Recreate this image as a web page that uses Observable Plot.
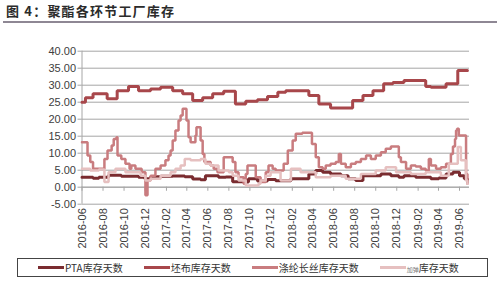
<!DOCTYPE html>
<html><head><meta charset="utf-8">
<script src="https://cdn.jsdelivr.net/npm/d3@7"></script>
<script src="https://cdn.jsdelivr.net/npm/@observablehq/plot@0.6"></script>
<style>
body{margin:0;background:#fff;width:500px;height:282px;overflow:hidden;position:relative;font-family:"Liberation Sans",Arial,sans-serif;}
#title{position:absolute;left:3px;top:0;width:494px;height:23px;border-bottom:2px solid #8e8794;box-sizing:border-box;font-family:"Noto Sans CJK SC",sans-serif;font-weight:bold;font-size:13px;letter-spacing:1.2px;line-height:22px;color:#2b2b2b;padding-left:3px;}
#chart{position:absolute;left:0;top:23px;}
#legend{position:absolute;left:17px;top:258px;width:471px;height:19px;border:1px solid #444;box-sizing:border-box;display:flex;align-items:center;padding-left:20px;gap:21px;font-family:"Noto Sans CJK SC",sans-serif;font-size:10px;color:#333;}
.item{display:flex;align-items:center;white-space:nowrap;}
.sw{display:inline-block;width:26px;height:3px;margin-right:1px;}
.small{font-size:6px;color:#777;}
</style></head>
<body>
<div id="title">图 4：聚酯各环节工厂库存</div>
<div id="chart"></div>
<div id="legend"></div>
<script>
// ---- data ----
const seriesNames = ["PTA库存天数", "坯布库存天数", "涤纶长丝库存天数", "加弹库存天数"];
const seriesColors = ["#7a2c30", "#a8474b", "#c97c7f", "#e6c0c0"];
const seriesWidths = [3, 3, 2.5, 2.5];

const yTicks = [-5, 0, 5, 10, 15, 20, 25, 30, 35, 40];
const xTickLabels = ["2016-06","2016-08","2016-10","2016-12","2017-02","2017-04","2017-06","2017-08","2017-10","2017-12","2018-02","2018-04","2018-06","2018-08","2018-10","2018-12","2019-02","2019-04","2019-06"];
const xDomain = ["2016-06-01", "2019-06-30"];

const ptaDates = ["2016-06-01","2016-07-03","2016-07-20","2016-08-17","2016-09-23","2016-11-12","2016-11-30","2016-12-17","2017-01-15","2017-02-19","2017-03-26","2017-04-18","2017-05-11","2017-05-25","2017-07-02","2017-07-23","2017-08-12","2017-09-13","2017-09-27","2017-10-23","2017-11-21","2017-12-15","2018-01-13","2018-01-28","2018-03-21","2018-04-10","2018-04-30","2018-05-23","2018-06-22","2018-07-13","2018-08-04","2018-08-25","2018-10-16","2018-11-14","2018-12-07","2018-12-22","2019-01-25","2019-03-10","2019-04-02","2019-04-23","2019-05-13","2019-06-01","2019-06-15","2019-06-24"];
const ptaValues = [2.9,2.6,2.9,3.5,3.2,2.9,2.5,3.1,3.2,3.3,3.1,2.4,2.2,3.4,2.9,3.0,1.6,1.5,2.5,1.8,2.3,1.9,1.9,2.5,3.9,4.9,4.4,3.9,3.4,2.5,2.0,3.4,3.9,3.4,2.9,3.4,2.9,2.5,2.7,3.9,4.4,3.4,2.5,1.5];

const pibuDates = ["2016-06-01","2016-06-11","2016-07-03","2016-08-13","2016-09-11","2016-10-14","2016-11-12","2016-12-17","2017-01-15","2017-02-19","2017-03-20","2017-04-18","2017-05-17","2017-06-15","2017-07-17","2017-08-20","2017-09-19","2017-10-23","2017-11-21","2017-12-21","2018-01-13","2018-03-21","2018-04-19","2018-05-23","2018-07-26","2018-08-25","2018-09-23","2018-10-24","2018-11-20","2018-12-22","2019-02-23","2019-03-10","2019-04-23","2019-05-27","2019-06-24"];
const pibuValues = [25,26.3,27.5,26,28.4,29.6,28.4,28.9,29.4,28.4,27.5,25.5,26.3,27.5,28.2,24.5,25.3,25.7,26.7,27.9,28.4,27,24.5,23.3,25.5,27,28.4,30.4,30.8,31.4,29.6,29.4,30.4,34.3,34.3];

const dtlDates = ["2016-06-01","2016-06-17","2016-06-25","2016-07-03","2016-08-05","2016-08-14","2016-08-26","2016-09-01","2016-09-09","2016-09-12","2016-09-23","2016-10-05","2016-10-17","2016-10-22","2016-11-03","2016-11-21","2016-12-02","2016-12-08","2016-12-17","2016-12-31","2017-01-15","2017-01-29","2017-02-07","2017-02-13","2017-02-19","2017-02-27","2017-03-08","2017-03-14","2017-03-20","2017-03-31","2017-04-06","2017-04-12","2017-04-26","2017-04-29","2017-05-11","2017-05-17","2017-05-22","2017-06-09","2017-06-18","2017-06-29","2017-07-17","2017-08-12","2017-08-20","2017-08-29","2017-09-13","2017-09-19","2017-09-24","2017-10-18","2017-11-01","2017-11-16","2017-11-24","2017-12-06","2017-12-15","2018-01-07","2018-01-19","2018-02-02","2018-02-11","2018-03-02","2018-03-30","2018-04-10","2018-04-19","2018-04-30","2018-05-09","2018-05-23","2018-06-07","2018-06-16","2018-06-22","2018-07-06","2018-07-21","2018-08-04","2018-08-19","2018-09-03","2018-09-17","2018-10-01","2018-10-16","2018-10-30","2018-11-14","2018-12-07","2018-12-13","2018-12-28","2019-01-11","2019-01-25","2019-02-09","2019-02-23","2019-03-04","2019-03-10","2019-03-25","2019-04-08","2019-04-23","2019-05-07","2019-05-13","2019-05-19","2019-05-22","2019-05-25","2019-05-30","2019-06-20","2019-06-24"];
const dtlValues = [13.2,9.3,7.4,5.4,8.3,10.8,12.3,14.2,14.7,9.3,8.3,6.9,5.4,6.4,5.4,4.4,-2.4,2.0,3.4,5.4,6.4,7.9,9.3,10.8,13.7,16.7,19.6,21.1,23.1,19.6,14.7,13.2,15.2,17.6,13.7,9.8,7.4,6.4,5.4,4.4,8.8,7.4,4.4,2.9,1.0,3.9,6.4,2.9,1.5,4.4,6.4,5.4,4.9,6.9,10.8,13.7,15.7,16.0,12.7,8.8,5.9,5.4,6.4,6.9,7.4,9.8,6.9,5.9,6.9,7.4,8.3,9.3,8.3,9.3,10.3,11.3,12.0,8.8,7.4,5.4,6.4,6.1,5.4,4.9,8.3,6.4,5.4,5.9,6.9,9.8,12.0,14.2,16.7,17.2,15.2,3.9,1.0];

const jdDates = ["2016-06-01","2016-06-25","2016-07-20","2016-08-05","2016-08-17","2016-09-06","2016-10-05","2016-11-18","2016-12-02","2016-12-17","2017-01-15","2017-02-13","2017-02-27","2017-03-14","2017-03-26","2017-04-12","2017-05-11","2017-05-25","2017-06-09","2017-07-02","2017-08-01","2017-08-12","2017-08-29","2017-09-19","2017-10-26","2017-11-01","2017-11-16","2017-11-30","2017-12-29","2018-01-28","2018-02-25","2018-04-10","2018-05-23","2018-07-06","2018-08-19","2018-10-01","2018-10-30","2018-11-29","2019-01-11","2019-02-23","2019-04-08","2019-05-01","2019-05-27","2019-06-05","2019-06-20","2019-06-24"];
const jdValues = [5.4,4.9,5.2,1.5,4.4,5.4,4.4,3.4,2.0,2.5,3.4,4.4,5.4,6.4,8.3,7.9,8.3,6.9,6.4,4.9,4.4,3.4,2.0,0.5,1.0,2.0,3.4,4.4,2.0,5.4,4.4,2.9,3.4,2.5,3.9,4.9,5.9,4.4,3.9,4.4,3.4,6.9,11.8,7.9,2.0,1.0];

// ---- build ----
const parse = d3.utcParse("%Y-%m-%d");
const seriesDates = [ptaDates, pibuDates, dtlDates, jdDates];
const seriesValues = [ptaValues, pibuValues, dtlValues, jdValues];
const tickDates = xTickLabels.map(s => parse(s + "-01"));
const labelByTime = new Map(tickDates.map((d, i) => [+d, xTickLabels[i]]));
const gray = "#a6a6a6";

const lineMarks = seriesNames.map((name, k) => {
  const rows = seriesDates[k].map((d, i) => ({date: parse(d), value: seriesValues[k][i]}));
  return Plot.line(rows, {x: "date", y: "value", curve: "step-after", stroke: seriesColors[k], strokeWidth: seriesWidths[k], strokeLinejoin: "miter"});
});

const chart = Plot.plot({
  width: 500,
  height: 232,
  marginLeft: 81.5,
  marginRight: 31,
  marginTop: 27.7,
  marginBottom: 51.3,
  x: {type: "utc", domain: xDomain.map(parse), label: null},
  y: {domain: [yTicks[0], yTicks[yTicks.length - 1]], label: null},
  style: {fontFamily: "'Liberation Sans', Arial, sans-serif", fontSize: "11px", color: "#404040", background: "transparent"},
  marks: [
    Plot.gridY(yTicks, {stroke: gray, strokeOpacity: 1}),
    Plot.ruleX([parse(xDomain[0])], {stroke: gray}),
    Plot.axisY(yTicks, {tickFormat: d => d.toFixed(2), tickSize: 4, tickPadding: 2, stroke: gray, fill: "#404040", label: null}),
    Plot.ruleY([0], {stroke: gray}),
    Plot.ruleX(tickDates, {y1: 0, y2: -1.2, stroke: gray}),
    Plot.axisX(tickDates, {tickSize: 0, tickPadding: 4, tickRotate: -90, tickFormat: d => labelByTime.get(+d), fill: "#404040", label: null}),
    ...lineMarks
  ]
});
document.getElementById("chart").appendChild(chart);

// ---- legend ----
const legend = document.getElementById("legend");
seriesNames.forEach((name, k) => {
  const item = document.createElement("div");
  item.className = "item";
  const sw = document.createElement("span");
  sw.className = "sw";
  sw.style.background = seriesColors[k];
  item.appendChild(sw);
  const t = document.createElement("span");
  if (k === 3) {
    t.innerHTML = '<span class="small">' + name.slice(0, 2) + '</span>' + name.slice(2);
  } else {
    t.textContent = name;
  }
  item.appendChild(t);
  legend.appendChild(item);
});
</script>
</body></html>
